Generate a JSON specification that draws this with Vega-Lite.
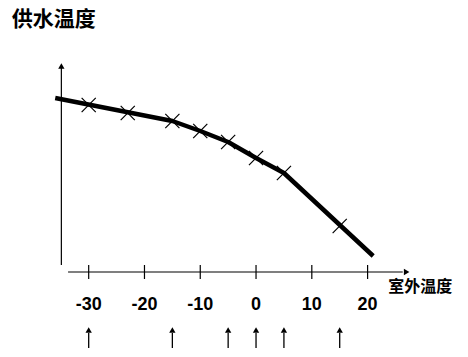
{
  "$schema": "https://vega.github.io/schema/vega-lite/v6.json",
  "width": 468,
  "height": 357,
  "autosize": "none",
  "padding": 0,
  "background": "white",
  "config": {"view": {"stroke": null}},
  "datasets": {
    "curve": [
      {"outdoor": -36, "supply": 87},
      {"outdoor": -15, "supply": 75.5},
      {"outdoor": -10, "supply": 70.5},
      {"outdoor": -5, "supply": 65},
      {"outdoor": 0, "supply": 57},
      {"outdoor": 5, "supply": 49.5},
      {"outdoor": 21, "supply": 8}
    ],
    "crosses": [
      {"outdoor": -30, "supply": 83.5},
      {"outdoor": -23, "supply": 79.5},
      {"outdoor": -15, "supply": 75.5},
      {"outdoor": -10, "supply": 70.5},
      {"outdoor": -5, "supply": 65},
      {"outdoor": 0, "supply": 57},
      {"outdoor": 5, "supply": 49.5},
      {"outdoor": 15, "supply": 23}
    ],
    "axes": [
      {"x1": -34.9, "x2": -34.9, "y1": 3.5, "y2": 102},
      {"x1": -33.7, "x2": 26.3, "y1": 0, "y2": 0}
    ],
    "heads": [
      {"x": -34.9, "y": 103, "dir": "up"},
      {"x": 27.0, "y": 0, "dir": "right"}
    ],
    "ticks": [
      {"t": -30, "label": "-30"},
      {"t": -20, "label": "-20"},
      {"t": -10, "label": "-10"},
      {"t": 0, "label": "0"},
      {"t": 10, "label": "10"},
      {"t": 20, "label": "20"}
    ],
    "arrows": [
      {"t": -30}, {"t": -15}, {"t": -5}, {"t": 0}, {"t": 5}, {"t": 15}
    ],
    "titles": [
      {"x": -43.8, "y": 126, "text": "供水温度", "kind": "y"},
      {"x": 23.7, "y": -7.5, "text": "室外温度", "kind": "x"}
    ]
  },
  "encoding": {},
  "layer": [
    {
      "data": {"name": "axes"},
      "mark": {"type": "rule", "color": "black", "strokeWidth": 1.2},
      "encoding": {
        "x": {"field": "x1", "type": "quantitative", "scale": {"domain": [-45.9, 38.0], "nice": false, "zero": false}, "axis": null},
        "x2": {"field": "x2"},
        "y": {"field": "y1", "type": "quantitative", "scale": {"domain": [-42.5, 136], "nice": false, "zero": false}, "axis": null},
        "y2": {"field": "y2"}
      }
    },
    {
      "data": {"name": "heads"},
      "mark": {"type": "point", "filled": true, "color": "black", "size": 40, "opacity": 1},
      "encoding": {
        "x": {"field": "x", "type": "quantitative"},
        "y": {"field": "y", "type": "quantitative"},
        "shape": {"field": "dir", "type": "nominal", "scale": {"domain": ["up", "right"], "range": ["triangle-up", "triangle-right"]}, "legend": null}
      }
    },
    {
      "data": {"name": "ticks"},
      "mark": {"type": "rule", "color": "black", "strokeWidth": 1.2},
      "encoding": {
        "x": {"field": "t", "type": "quantitative"},
        "y": {"datum": 3.5, "type": "quantitative"},
        "y2": {"datum": -3.5}
      }
    },
    {
      "data": {"name": "ticks"},
      "mark": {"type": "text", "font": "Liberation Sans", "fontSize": 18, "fontWeight": "bold", "color": "black", "align": "center", "baseline": "middle"},
      "encoding": {
        "x": {"field": "t", "type": "quantitative"},
        "y": {"datum": -16.5, "type": "quantitative"},
        "text": {"field": "label"}
      }
    },
    {
      "data": {"name": "arrows"},
      "mark": {"type": "rule", "color": "black", "strokeWidth": 1.3},
      "encoding": {
        "x": {"field": "t", "type": "quantitative"},
        "y": {"datum": -38, "type": "quantitative"},
        "y2": {"datum": -30.5}
      }
    },
    {
      "data": {"name": "arrows"},
      "mark": {"type": "point", "shape": "triangle-up", "filled": true, "color": "black", "size": 40, "opacity": 1},
      "encoding": {
        "x": {"field": "t", "type": "quantitative"},
        "y": {"datum": -29, "type": "quantitative"}
      }
    },
    {
      "data": {"name": "titles"},
      "mark": {"type": "text", "font": "Noto Sans CJK SC", "fontWeight": "bold", "color": "black", "align": "left", "baseline": "middle"},
      "encoding": {
        "x": {"field": "x", "type": "quantitative"},
        "y": {"field": "y", "type": "quantitative"},
        "text": {"field": "text"},
        "size": {"field": "kind", "type": "nominal", "scale": {"domain": ["y", "x"], "range": [21, 16]}, "legend": null}
      }
    },
    {
      "data": {"name": "curve"},
      "mark": {"type": "line", "color": "black", "strokeWidth": 4.5, "strokeJoin": "round"},
      "encoding": {
        "x": {"field": "outdoor", "type": "quantitative"},
        "y": {"field": "supply", "type": "quantitative"}
      }
    },
    {
      "data": {"name": "crosses"},
      "mark": {"type": "point", "shape": "M-1,-1L1,1M1,-1L-1,1", "color": "black", "strokeWidth": 1.2, "size": 200, "opacity": 1},
      "encoding": {
        "x": {"field": "outdoor", "type": "quantitative"},
        "y": {"field": "supply", "type": "quantitative"}
      }
    }
  ]
}
